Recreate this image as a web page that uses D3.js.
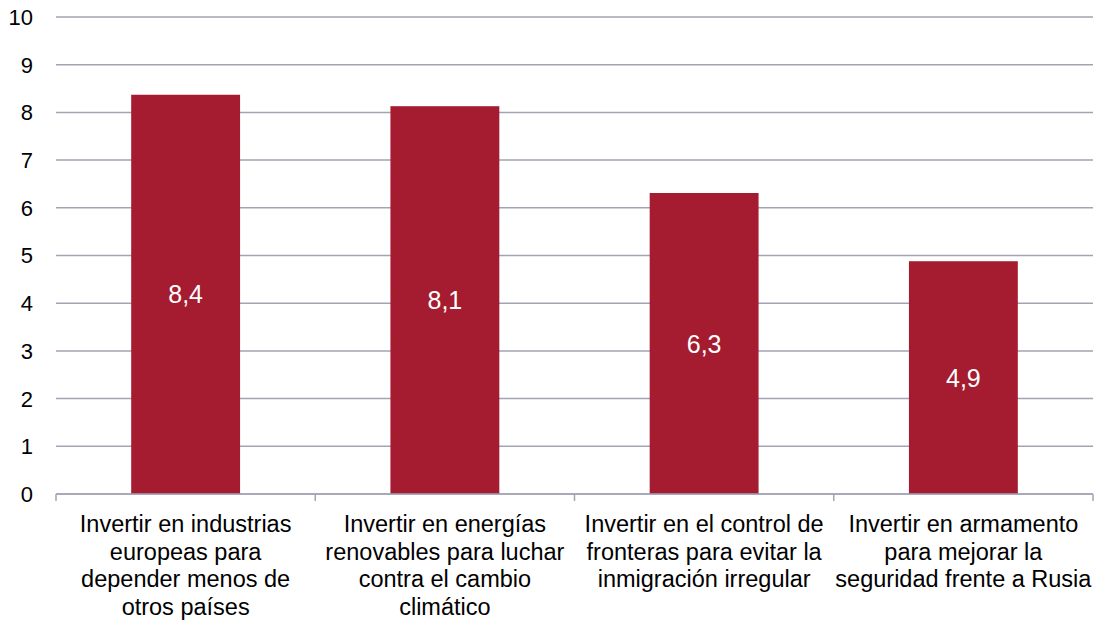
<!DOCTYPE html>
<html>
<head>
<meta charset="utf-8">
<script src="https://cdn.jsdelivr.net/npm/d3@7"></script>
<style>
  body { margin: 0; background: #fff; }
  svg { font-family: "Liberation Sans", Arial, sans-serif; }
</style>
</head>
<body>
<svg></svg>
<script>
const CATEGORIES = [
    ['Invertir en industrias', 'europeas para', 'depender menos de', 'otros países'],
    ['Invertir en energías', 'renovables para luchar', 'contra el cambio', 'climático'],
    ['Invertir en el control de', 'fronteras para evitar la', 'inmigración irregular'],
    ['Invertir en armamento', 'para mejorar la', 'seguridad frente a Rusia'],
];
const VALUES = [8.37, 8.13, 6.31, 4.88];
const Y_TICKS = [0, 1, 2, 3, 4, 5, 6, 7, 8, 9, 10];

const WIDTH = 1101;
const HEIGHT = 621;
const MARGINS = { top: 17, left: 56, right: 8, bottom: 127 };
const CHART_WIDTH = WIDTH - MARGINS.left - MARGINS.right;
const CHART_HEIGHT = HEIGHT - MARGINS.top - MARGINS.bottom;

const GRID = '#a3a3b5';
const BAR = '#a51b30';

const svg = d3.select('svg').attr('width', WIDTH).attr('height', HEIGHT);
const chart = svg.append('g').attr('transform', `translate(${MARGINS.left}, ${MARGINS.top})`);

const idx = d3.range(CATEGORIES.length);
const x = d3.scaleBand().domain(idx).range([0, CHART_WIDTH]).paddingInner(0.58).paddingOuter(0.29);
const y = d3.scaleLinear().domain([0, 10]).range([CHART_HEIGHT, 0]);

// grid
chart.append('g')
    .selectAll('line')
    .data(Y_TICKS)
    .enter()
    .append('line')
    .attr('x1', 0)
    .attr('x2', CHART_WIDTH)
    .attr('y1', d => y(d))
    .attr('y2', d => y(d))
    .attr('stroke', GRID)
    .attr('stroke-width', 1.5);

// y labels
chart.append('g')
    .selectAll('text')
    .data(Y_TICKS)
    .enter()
    .append('text')
    .text(d => d)
    .attr('x', -23)
    .attr('y', d => y(d))
    .attr('dy', '0.36em')
    .attr('text-anchor', 'end')
    .attr('font-size', 22)
    .attr('fill', '#000');

// bars
chart.selectAll('.bar')
    .data(idx)
    .enter()
    .append('rect')
    .classed('bar', true)
    .attr('x', i => x(i))
    .attr('width', x.bandwidth())
    .attr('y', i => y(VALUES[i]))
    .attr('height', i => CHART_HEIGHT - y(VALUES[i]))
    .attr('fill', BAR);

// value labels
chart.selectAll('.label')
    .data(idx)
    .enter()
    .append('text')
    .classed('label', true)
    .text(i => d3.format('.1f')(VALUES[i]).replace('.', ','))
    .attr('x', i => x(i) + x.bandwidth() / 2)
    .attr('y', i => (y(VALUES[i]) + CHART_HEIGHT) / 2)
    .attr('dy', '0.36em')
    .attr('text-anchor', 'middle')
    .attr('font-size', 25)
    .attr('fill', '#fff');

// x axis line and category ticks
const step = x.step();
chart.append('line')
    .attr('x1', 0)
    .attr('x2', CHART_WIDTH)
    .attr('y1', CHART_HEIGHT)
    .attr('y2', CHART_HEIGHT)
    .attr('stroke', GRID)
    .attr('stroke-width', 1.5);
chart.append('g')
    .selectAll('line')
    .data(d3.range(CATEGORIES.length + 1))
    .enter()
    .append('line')
    .attr('x1', i => i * step)
    .attr('x2', i => i * step)
    .attr('y1', CHART_HEIGHT)
    .attr('y2', CHART_HEIGHT + 7)
    .attr('stroke', GRID)
    .attr('stroke-width', 1.5);

// category labels
const cats = chart.append('g')
    .selectAll('text')
    .data(idx)
    .enter()
    .append('text')
    .attr('text-anchor', 'middle')
    .attr('font-size', 23.5)
    .attr('fill', '#000')
    .attr('transform', i => `translate(${x(i) + x.bandwidth() / 2}, ${CHART_HEIGHT + 38})`);

cats.selectAll('tspan')
    .data(i => CATEGORIES[i])
    .enter()
    .append('tspan')
    .attr('x', 0)
    .attr('y', (d, j) => j * 27.6)
    .text(d => d);
</script>
</body>
</html>
